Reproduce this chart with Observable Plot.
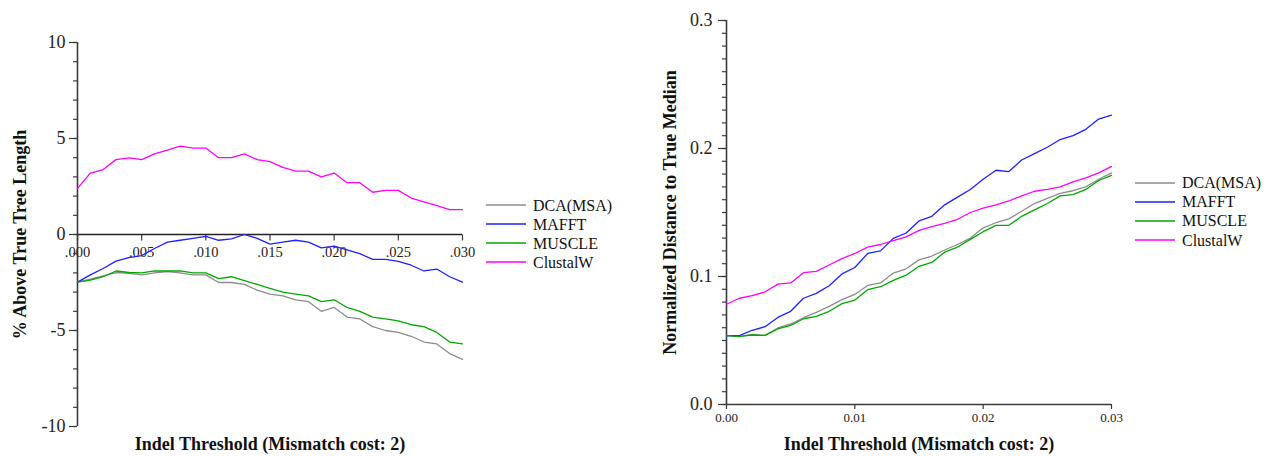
<!DOCTYPE html>
<html>
<head>
<meta charset="utf-8">
<script src="https://cdn.jsdelivr.net/npm/d3@7"></script>
<script src="https://cdn.jsdelivr.net/npm/@observablehq/plot@0.6"></script>
<style>
  html, body { margin: 0; padding: 0; background: #fff; }
  #wrap { position: relative; width: 1272px; height: 456px; overflow: hidden; font-family: 'Liberation Serif', 'Times New Roman', serif; }
  #wrap svg.chart { position: absolute; top: 0; font-family: 'Liberation Serif', 'Times New Roman', serif; }
  #wrap svg.chart text { font-family: 'Liberation Serif', 'Times New Roman', serif; font-variant-numeric: normal; }
  .legend { position: absolute; font-size: 16px; color: #111; }
  .legend .row { position: absolute; left: 0; height: 19px; line-height: 19px; white-space: nowrap; display: flex; align-items: center; }
  .legend .row svg { display: block; margin-right: 7px; }
</style>
</head>
<body>
<div id="wrap"></div>
<script>
// ---- data ----
const thresholds = [0.000,0.001,0.002,0.003,0.004,0.005,0.006,0.007,0.008,0.009,0.010,
                    0.011,0.012,0.013,0.014,0.015,0.016,0.017,0.018,0.019,0.020,
                    0.021,0.022,0.023,0.024,0.025,0.026,0.027,0.028,0.029,0.030];
const methods = ["DCA(MSA)", "MAFFT", "MUSCLE", "ClustalW"];
const colors = ["#8c8c8c", "#1f1fff", "#00a800", "#ff00ff"];

// Left panel: % Above True Tree Length
const pctDCA     = [-2.48,-2.33,-2.15,-1.98,-2.03,-2.1,-2.0,-1.93,-2.0,-2.1,-2.1,-2.5,-2.5,-2.6,-2.9,-3.1,-3.2,-3.4,-3.5,-4.0,-3.8,-4.3,-4.4,-4.8,-5.0,-5.1,-5.3,-5.6,-5.7,-6.2,-6.5];
const pctMAFFT   = [-2.48,-2.1,-1.77,-1.39,-1.2,-1.1,-0.73,-0.4,-0.3,-0.2,-0.1,-0.3,-0.23,0.0,-0.2,-0.5,-0.4,-0.3,-0.4,-0.7,-0.6,-0.8,-1.0,-1.3,-1.3,-1.4,-1.6,-1.9,-1.8,-2.2,-2.48];
const pctMUSCLE  = [-2.48,-2.38,-2.2,-1.9,-1.98,-2.0,-1.9,-1.9,-1.9,-2.0,-2.0,-2.3,-2.2,-2.4,-2.6,-2.8,-3.0,-3.1,-3.2,-3.5,-3.4,-3.8,-4.0,-4.3,-4.4,-4.5,-4.7,-4.8,-5.1,-5.6,-5.7];
const pctClustal = [2.4,3.2,3.38,3.9,3.99,3.9,4.2,4.39,4.6,4.5,4.5,4.0,4.0,4.2,3.9,3.8,3.5,3.3,3.3,3.0,3.2,2.7,2.7,2.2,2.3,2.3,1.9,1.7,1.5,1.3,1.3];

// Right panel: Normalized Distance to True Median
const distDCA     = [0.0538,0.053,0.0548,0.054,0.0598,0.0629,0.0678,0.072,0.0767,0.0819,0.086,0.093,0.095,0.1027,0.106,0.113,0.116,0.1207,0.125,0.130,0.138,0.142,0.145,0.151,0.157,0.161,0.165,0.167,0.170,0.176,0.181];
const distMAFFT   = [0.0538,0.0538,0.058,0.0608,0.068,0.0728,0.083,0.0868,0.0928,0.102,0.107,0.118,0.12,0.1298,0.134,0.1434,0.147,0.156,0.162,0.168,0.176,0.183,0.182,0.191,0.196,0.201,0.207,0.210,0.215,0.223,0.226];
const distMUSCLE  = [0.0538,0.0533,0.0543,0.054,0.059,0.0618,0.067,0.0689,0.0728,0.0788,0.0816,0.0897,0.092,0.097,0.101,0.108,0.111,0.119,0.123,0.129,0.135,0.140,0.140,0.147,0.152,0.157,0.163,0.164,0.168,0.175,0.179];
const distClustal = [0.0783,0.083,0.085,0.0879,0.094,0.095,0.103,0.104,0.109,0.114,0.118,0.123,0.125,0.128,0.131,0.136,0.139,0.1415,0.1447,0.150,0.1535,0.156,0.159,0.163,0.1666,0.168,0.170,0.174,0.177,0.181,0.186];

// Tick values and labels
const leftXTicks  = [0.000, 0.005, 0.010, 0.015, 0.020, 0.025, 0.030];
const leftXLabels = [".000", ".005", ".010", ".015", ".020", ".025", ".030"];
const leftYTicks  = [-10, -5, 0, 5, 10];
const leftYLabels = ["-10", "-5", "0", "5", "10"];
const leftYMinor  = [-10,-9,-8,-7,-6,-5,-4,-3,-2,-1,0,1,2,3,4,5,6,7,8,9,10];
const rightXTicks  = [0.00, 0.01, 0.02, 0.03];
const rightXLabels = ["0.00", "0.01", "0.02", "0.03"];
const rightYTicks  = [0.0, 0.1, 0.2, 0.3];
const rightYLabels = ["0.0", "0.1", "0.2", "0.3"];
const rightYMinor  = [0.00,0.01,0.02,0.03,0.04,0.05,0.06,0.07,0.08,0.09,0.10,0.11,0.12,0.13,0.14,0.15,0.16,0.17,0.18,0.19,0.20,0.21,0.22,0.23,0.24,0.25,0.26,0.27,0.28,0.29,0.30];

const xTitle = "Indel Threshold (Mismatch cost: 2)";
const leftYTitle = "% Above True Tree Length";
const rightYTitle = "Normalized Distance to True Median";

// ---- build ----
const tidy = (series) => methods.flatMap((m, k) => series[k].map((v, i) => ({method: m, x: thresholds[i], y: v})));
const leftData = tidy([pctDCA, pctMAFFT, pctMUSCLE, pctClustal]);
const rightData = tidy([distDCA, distMAFFT, distMUSCLE, distClustal]);

const fontFamily = "'Liberation Serif', 'Times New Roman', serif";
const axisColor = "#3a3a3a";
const tickDown = { draw(context) { context.moveTo(0, 0); context.lineTo(0, 6); } };
const labelFrom = (ticks, labels) => (d) => labels[ticks.indexOf(d)];

const left = Plot.plot({
  width: 480, height: 456,
  marginLeft: 77, marginRight: 18, marginTop: 42, marginBottom: 30,
  x: {domain: [0, 0.03], axis: null},
  y: {domain: [-10, 10]},
  color: {domain: methods, range: colors},
  style: {fontFamily, color: "#222", background: "transparent", overflow: "visible"},
  marks: [
    Plot.axisY({ticks: leftYMinor, tickSize: 4, tickFormat: () => "", label: null, stroke: axisColor, strokeWidth: 1.2}),
    Plot.axisY({ticks: leftYTicks, tickSize: 8, tickPadding: 4, tickFormat: labelFrom(leftYTicks, leftYLabels), fontSize: 18, fontFamily, label: null, stroke: axisColor, strokeWidth: 1.2}),
    Plot.ruleX([0], {stroke: axisColor, strokeWidth: 1.6}),
    Plot.ruleY([0], {stroke: "#222", strokeWidth: 1.3}),
    Plot.dot(leftXTicks, {x: d => d, y: 0, symbol: tickDown, stroke: axisColor, fill: "none", strokeWidth: 1.2}),
    Plot.text(leftXTicks, {x: d => d, y: 0, text: labelFrom(leftXTicks, leftXLabels), dy: 18, fontSize: 14.5, fontFamily, fill: "#222"}),
    Plot.line(leftData, {x: "x", y: "y", z: "method", stroke: "method", strokeWidth: 1.3}),
    Plot.text([xTitle], {frameAnchor: "bottom", textAnchor: "middle", lineAnchor: "middle", dy: 18, fontSize: 18, fontFamily, fontWeight: "bold", fill: "#111"}),
    Plot.text([leftYTitle], {frameAnchor: "left", textAnchor: "middle", lineAnchor: "middle", rotate: -90, dx: -57, fontSize: 18, fontFamily, fontWeight: "bold", fill: "#111"})
  ]
});
left.classList.add("chart");
left.style.left = "0px";

const right = Plot.plot({
  width: 672, height: 456,
  marginLeft: 126, marginRight: 161, marginTop: 20, marginBottom: 52,
  x: {domain: [0, 0.03]},
  y: {domain: [0, 0.3]},
  color: {domain: methods, range: colors},
  style: {fontFamily, color: "#222", background: "transparent", overflow: "visible"},
  marks: [
    Plot.axisY({ticks: rightYMinor, tickSize: 4, tickFormat: () => "", label: null, stroke: axisColor, strokeWidth: 1.2}),
    Plot.axisY({ticks: rightYTicks, tickSize: 8, tickPadding: 6, tickFormat: labelFrom(rightYTicks, rightYLabels), fontSize: 18, fontFamily, label: null, stroke: axisColor, strokeWidth: 1.2}),
    Plot.axisX({ticks: rightXTicks, tickSize: 5, tickPadding: 3, tickFormat: labelFrom(rightXTicks, rightXLabels), fontSize: 13, fontFamily, label: null, stroke: axisColor, strokeWidth: 1.2}),
    Plot.ruleX([0], {stroke: axisColor, strokeWidth: 1.6}),
    Plot.ruleY([0], {stroke: axisColor, strokeWidth: 1.6}),
    Plot.line(rightData, {x: "x", y: "y", z: "method", stroke: "method", strokeWidth: 1.3}),
    Plot.text([xTitle], {frameAnchor: "bottom", textAnchor: "middle", lineAnchor: "middle", dy: 40, fontSize: 18, fontFamily, fontWeight: "bold", fill: "#111"}),
    Plot.text([rightYTitle], {frameAnchor: "left", textAnchor: "middle", lineAnchor: "middle", rotate: -90, dx: -56, fontSize: 18, fontFamily, fontWeight: "bold", fill: "#111"})
  ]
});
right.classList.add("chart");
right.style.left = "600px";

const wrap = document.getElementById("wrap");
wrap.appendChild(left);
wrap.appendChild(right);

function legend(leftPx, firstCenter, step) {
  const box = document.createElement("div");
  box.className = "legend";
  box.style.left = leftPx + "px";
  box.style.top = "0px";
  methods.forEach((m, k) => {
    const row = document.createElement("div");
    row.className = "row";
    row.style.top = (firstCenter + k * step - 9.5) + "px";
    row.innerHTML = `<svg width="40" height="4"><line x1="0" x2="40" y1="2" y2="2" stroke="${colors[k]}" stroke-width="1.6"/></svg><span>${m}</span>`;
    box.appendChild(row);
  });
  wrap.appendChild(box);
}
legend(486, 205, 19);
legend(1135, 182.7, 19.1);
</script>
</body>
</html>
